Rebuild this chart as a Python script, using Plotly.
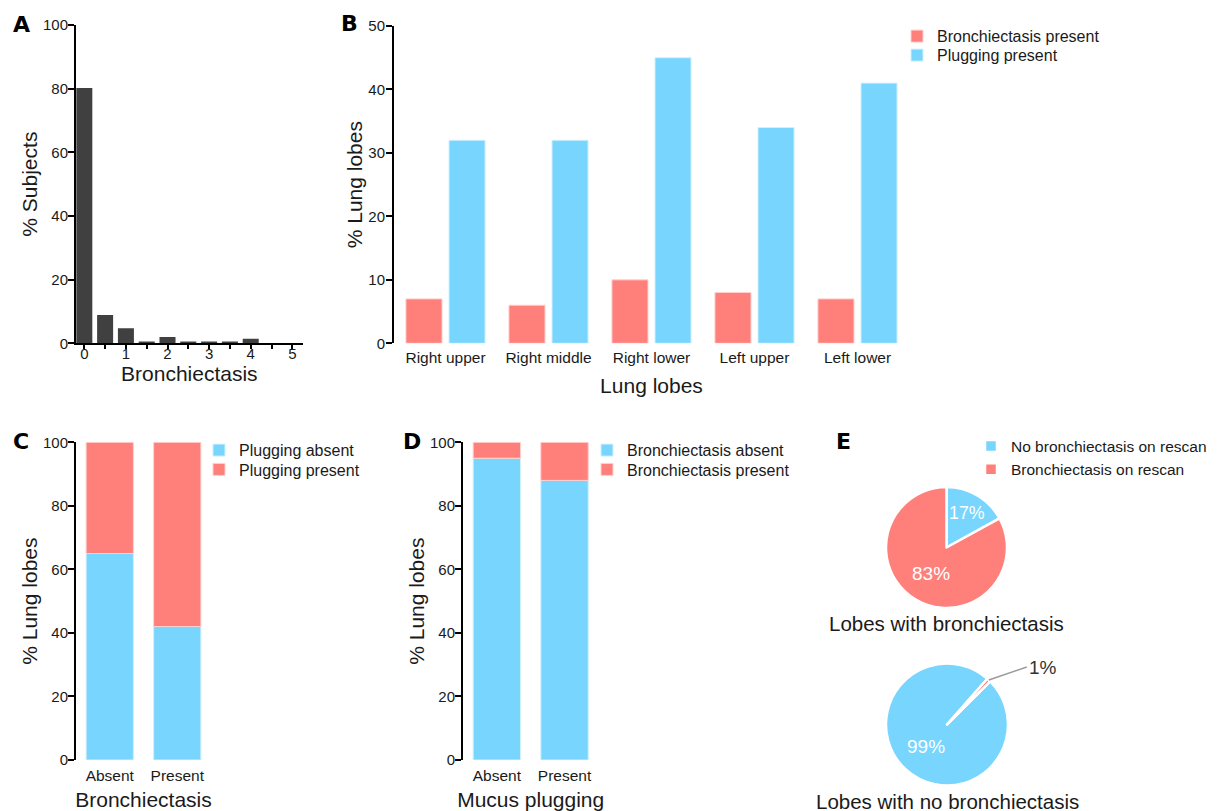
import math
import plotly.graph_objects as go

# the page body adds an 8px margin; the figure fills the rest of the 1218x811 window
OFF = 8
W, H = 1218 - OFF, 811 - OFF
FONT = "Liberation Sans, Arial, sans-serif"
BLUE = "#77D5FE"
RED = "#FF7F7A"
DARK = "#404040"
TXT = "#1a1a1a"

# Panel A
a_x = [0, 0.5, 1, 1.5, 2, 2.5, 3, 3.5, 4, 4.5, 5]
a_y = [80.2, 8.9, 4.7, 0.6, 2.0, 0.6, 0.6, 0.6, 1.4, 0, 0]
a_tickvals = [0, 0.5, 1, 1.5, 2, 2.5, 3, 3.5, 4, 4.5, 5]
a_ticktext = ["0", "", "1", "", "2", "", "3", "", "4", "", "5"]

# Panel B
b_lobes = ["Right upper", "Right middle", "Right lower", "Left upper", "Left lower"]
b_bronch = [7, 6, 10, 8, 7]
b_plug = [32, 32, 45, 34, 41]

# Panel C
c_cats = ["Absent", "Present"]
c_plug_absent = [65, 42]
c_plug_present = [35, 58]

# Panel D
d_cats = ["Absent", "Present"]
d_bronch_absent = [95, 88]
d_bronch_present = [5, 12]

# Panel E
e_labels = ["No bronchiectasis on rescan", "Bronchiectasis on rescan"]
e_with = [17, 83]
e_without = [99, 1]
e_titles = ["Lobes with bronchiectasis", "Lobes with no bronchiectasis"]


def px_x(p):
    return (p - OFF) / W


def px_y(p):
    return 1 - (p - OFF) / H


fig = go.Figure()

# A
fig.add_trace(go.Bar(x=a_x, y=a_y, width=0.385, marker=dict(color=DARK, line=dict(width=0)),
                     showlegend=False, xaxis="x", yaxis="y"))

# B
fig.add_trace(go.Bar(x=b_lobes, y=b_bronch, name="Bronchiectasis present", width=0.35, offset=-0.384,
                     marker=dict(color=RED, line=dict(color="#FFD0CE", width=1)),
                     xaxis="x2", yaxis="y2", legend="legend"))
fig.add_trace(go.Bar(x=b_lobes, y=b_plug, name="Plugging present", width=0.35, offset=0.034,
                     marker=dict(color=BLUE, line=dict(color="#D0F0FF", width=1)),
                     xaxis="x2", yaxis="y2", legend="legend2"))

# C
fig.add_trace(go.Bar(x=c_cats, y=c_plug_absent, name="Plugging absent", width=0.7,
                     marker=dict(color=BLUE, line=dict(color="#D0F0FF", width=1)),
                     xaxis="x3", yaxis="y3", legend="legend3"))
fig.add_trace(go.Bar(x=c_cats, y=c_plug_present, base=c_plug_absent, name="Plugging present", width=0.7,
                     marker=dict(color=RED, line=dict(color="#FFD0CE", width=1)),
                     xaxis="x3", yaxis="y3", legend="legend4"))

# D
fig.add_trace(go.Bar(x=d_cats, y=d_bronch_absent, name="Bronchiectasis absent", width=0.7,
                     marker=dict(color=BLUE, line=dict(color="#D0F0FF", width=1)),
                     xaxis="x4", yaxis="y4", legend="legend5"))
fig.add_trace(go.Bar(x=d_cats, y=d_bronch_present, base=d_bronch_absent, name="Bronchiectasis present", width=0.7,
                     marker=dict(color=RED, line=dict(color="#FFD0CE", width=1)),
                     xaxis="x4", yaxis="y4", legend="legend6"))

# E pies
pie1_dom = dict(x=[px_x(886), px_x(1007)], y=[px_y(608), px_y(487)])
pie2_dom = dict(x=[px_x(886), px_x(1008)], y=[px_y(786), px_y(663)])
pie2_rot = 45

fig.add_trace(go.Pie(labels=e_labels, values=e_with, sort=False, direction="clockwise", rotation=0,
                     marker=dict(colors=[BLUE, RED], line=dict(color="white", width=2.5)),
                     textinfo="percent", textposition="inside", insidetextorientation="horizontal",
                     textfont=dict(color="white", size=19, family=FONT),
                     domain=pie1_dom, legend="legend7", hoverinfo="label+percent"))
fig.add_trace(go.Pie(labels=e_labels, values=e_without, sort=False, direction="clockwise", rotation=pie2_rot,
                     marker=dict(colors=[BLUE, RED], line=dict(color="white", width=2.5)),
                     texttemplate=["%{percent}", ""], textposition="inside", insidetextorientation="horizontal",
                     textfont=dict(color="white", size=19, family=FONT),
                     domain=pie2_dom, showlegend=False, legend="legend7", hoverinfo="label+percent"))

# leader label for the small slice of pie 2 (position derived from the data)
tot = sum(e_without)
small_frac = e_without[1] / tot
theta = math.radians(pie2_rot - small_frac * 360 / 2)
cx = (pie2_dom["x"][0] + pie2_dom["x"][1]) / 2
cy = (pie2_dom["y"][0] + pie2_dom["y"][1]) / 2
r_px = min((pie2_dom["x"][1] - pie2_dom["x"][0]) * W, (pie2_dom["y"][1] - pie2_dom["y"][0]) * H) / 2
ex = cx + r_px * math.sin(theta) / W
ey = cy + r_px * math.cos(theta) / H
fig.add_annotation(x=ex, y=ey, xref="paper", yref="paper", text=f"{round(small_frac * 100)}%",
                   showarrow=True, arrowhead=0, arrowwidth=1.5, arrowcolor="#9a9a9a",
                   ax=38, ay=-13, xanchor="left", yanchor="middle",
                   font=dict(size=19, color="#333333", family=FONT))

for t, dom in zip(e_titles, [pie1_dom, pie2_dom]):
    fig.add_annotation(text=t, x=(dom["x"][0] + dom["x"][1]) / 2, y=dom["y"][0] - 2 / H,
                       xref="paper", yref="paper", xanchor="center", yanchor="top", showarrow=False,
                       font=dict(size=20.5, color=TXT, family=FONT))

axis_common = dict(showgrid=False, zeroline=False, showline=True, linecolor="black", linewidth=2,
                   ticks="outside", tickcolor="black", tickwidth=1.5,
                   tickfont=dict(size=15, color=TXT, family=FONT), automargin=False)
cat_common = dict(showgrid=False, zeroline=False, showline=False, ticks="", ticklen=0,
                  tickfont=dict(size=15.5, color=TXT, family=FONT), automargin=False)
title_font = dict(size=21, color=TXT, family=FONT)

leg_common = dict(xanchor="left", yanchor="top", bgcolor="rgba(0,0,0,0)",
                  font=dict(size=16, color=TXT, family=FONT), tracegroupgap=0, traceorder="normal")

# legend anchor positions (px): text start x, row centre y
leg_pos = {
    "legend": (937, 36.7), "legend2": (937, 55.7),
    "legend3": (239, 450.7), "legend4": (239, 470),
    "legend5": (627, 450.7), "legend6": (627, 470),
}
legends = {k: dict(x=px_x(x - 40), y=px_y(y - 17.5), **leg_common) for k, (x, y) in leg_pos.items()}
leg7 = dict(leg_common)
leg7["font"] = dict(size=15.5, color=TXT, family=FONT)
legends["legend7"] = dict(x=px_x(1011 - 40), y=px_y(447 - 17.5), **leg7)

fig.update_layout(
    width=W, height=H, margin=dict(l=0, r=0, t=0, b=0, autoexpand=False),
    paper_bgcolor="white", plot_bgcolor="white",
    barmode="overlay",
    font=dict(family=FONT, color=TXT),
    xaxis=dict(domain=[px_x(76), px_x(302.7)], range=[-0.2, 5.25], tickmode="array",
               tickvals=a_tickvals, ticktext=a_ticktext, anchor="y", ticklen=4, ticklabelstandoff=-8,
               title=dict(text="Bronchiectasis", font=title_font, standoff=4), **axis_common),
    yaxis=dict(domain=[px_y(343.3), px_y(25)], range=[0, 100], dtick=20, anchor="x", ticklen=6,
               ticklabelstandoff=-3,
               title=dict(text="% Subjects", font=title_font, standoff=0), **axis_common),
    xaxis2=dict(domain=[px_x(394), px_x(909)], range=[-0.5, 4.5], anchor="y2", ticklabelstandoff=3,
                title=dict(text="Lung lobes", font=title_font, standoff=13), **cat_common),
    yaxis2=dict(domain=[px_y(343.3), px_y(26)], range=[0, 50], dtick=10, anchor="x2", ticklen=6,
                ticklabelstandoff=-2,
                title=dict(text="% Lung lobes", font=title_font, standoff=0), **axis_common),
    xaxis3=dict(domain=[px_x(76), px_x(211)], range=[-0.5, 1.5], anchor="y3", ticklabelstandoff=4,
                title=dict(text="Bronchiectasis", font=title_font, standoff=10), **cat_common),
    yaxis3=dict(domain=[px_y(760), px_y(442.3)], range=[0, 100], dtick=20, anchor="x3", ticklen=6,
                ticklabelstandoff=-3,
                title=dict(text="% Lung lobes", font=title_font, standoff=0), **axis_common),
    xaxis4=dict(domain=[px_x(463), px_x(598.4)], range=[-0.5, 1.5], anchor="y4", ticklabelstandoff=4,
                title=dict(text="Mucus plugging", font=title_font, standoff=10), **cat_common),
    yaxis4=dict(domain=[px_y(760), px_y(442.3)], range=[0, 100], dtick=20, anchor="x4", ticklen=6,
                ticklabelstandoff=-3,
                title=dict(text="% Lung lobes", font=title_font, standoff=0), **axis_common),
    **legends,
)

letters = [("A", 11, 25), ("B", 339, 24), ("C", 11, 441), ("D", 401, 441), ("E", 834, 441)]
for t, x, y in letters:
    fig.add_annotation(text=f"<b>{t}</b>", x=px_x(x), y=px_y(y), xref="paper", yref="paper",
                       xanchor="left", yanchor="middle", showarrow=False,
                       font=dict(size=22, color="black", family="DejaVu Sans"))

fig.write_html("out.html")
